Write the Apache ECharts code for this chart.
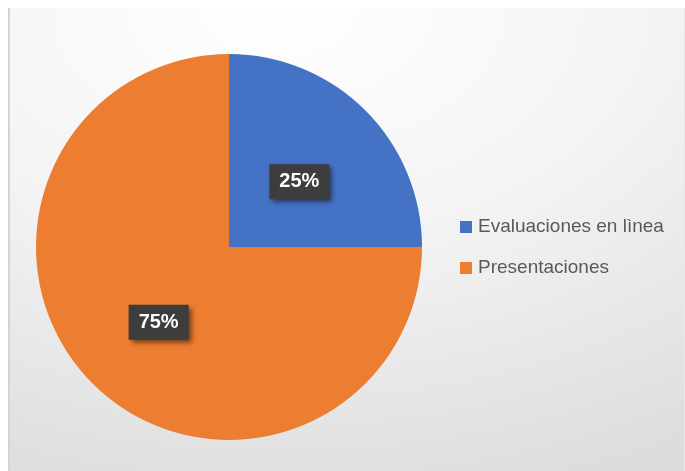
<!DOCTYPE html>
<html>
<head>
<meta charset="utf-8">
<script src="https://cdn.jsdelivr.net/npm/echarts@6/dist/echarts.min.js"></script>
<style>
  html, body { margin: 0; padding: 0; background: #ffffff; }
  #wrap { position: relative; width: 685px; height: 471px; overflow: hidden; }
  #bg { position: absolute; left: 8px; top: 8px; right: 0; bottom: 0;
        border-left: 2px solid #d4d4d4; border-right: 1px solid #e8e8e8;
        background: radial-gradient(ellipse 120% 110% at 40% 0%, #ffffff 0%, #f4f4f4 45%, #dcdcdc 100%); }
  #chart { position: absolute; left: 0; top: 0; width: 685px; height: 471px; }
</style>
</head>
<body>
<div id="wrap"><div id="bg"></div><div id="chart"></div></div>
<script>
const categories = ['Evaluaciones en lìnea', 'Presentaciones'];
const values = [25, 75];
const colors = ['#4472C4', '#ED7D31'];

const chart = echarts.init(document.getElementById('chart'), null, { renderer: 'canvas' });
chart.setOption({
  backgroundColor: 'transparent',
  animation: false,
  legend: {
    orient: 'vertical',
    left: 460,
    top: 217,
    padding: 0,
    itemWidth: 12,
    itemHeight: 12,
    itemGap: 21,
    icon: 'rect',
    textStyle: { fontFamily: 'Liberation Sans, Arial, sans-serif', fontSize: 19, color: '#595959', lineHeight: 20, padding: [0, 0, 0, 1] },
    data: categories
  },
  series: [{
    type: 'pie',
    center: [229, 247],
    radius: 193,
    startAngle: 90,
    clockwise: true,
    avoidLabelOverlap: false,
    label: {
      show: true,
      position: 'inside',
      offset: [0, 5],
      formatter: function (p) { return Math.round(p.percent) + '%'; },
      color: '#ffffff',
      fontFamily: 'Liberation Sans, Arial, sans-serif',
      fontWeight: 'bold',
      fontSize: 20,
      backgroundColor: '#3d3d3d',
      padding: [8, 10, 7, 10],
      shadowColor: 'rgba(0,0,0,0.55)',
      shadowBlur: 5,
      shadowOffsetX: 3,
      shadowOffsetY: 3
    },
    labelLine: { show: false },
    itemStyle: { borderWidth: 0 },
    emphasis: { disabled: true },
    data: categories.map(function (c, i) {
      return { name: c, value: values[i], itemStyle: { color: colors[i] } };
    })
  }]
});
</script>
</body>
</html>
